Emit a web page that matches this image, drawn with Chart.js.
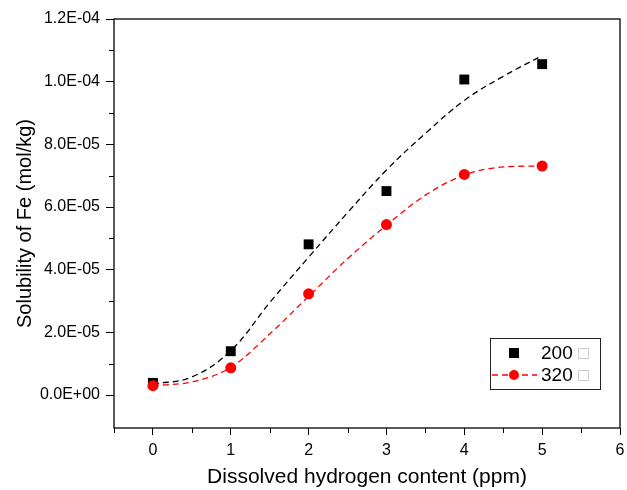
<!DOCTYPE html>
<html>
<head>
<meta charset="utf-8">
<script src="https://cdn.jsdelivr.net/npm/chart.js@4"></script>
<style>
  html, body { margin: 0; padding: 0; background: #fff; }
  #wrap { width: 627px; height: 490px; }
</style>
</head>
<body>
<div id="wrap"><canvas id="chart" width="627" height="490"></canvas></div>
<script>
// measured points
const xPts = [0, 1, 2, 3, 4, 5];
const pts200 = [3.9e-6, 1.40e-5, 4.81e-5, 6.51e-5, 1.007e-4, 1.056e-4];
const pts320 = [3.0e-6, 8.7e-6, 3.23e-5, 5.44e-5, 7.04e-5, 7.31e-5];

// fitted curves, every 0.5 ppm
const xFit = [0, 0.5, 1, 1.5, 2, 2.5, 3, 3.5, 4, 4.5, 5];
const fit200 = [3.5e-6, 5.8e-6, 1.42e-5, 2.95e-5, 4.4e-5, 5.82e-5, 7.18e-5, 8.35e-5, 9.4e-5, 1.017e-4, 1.083e-4];
const fit320 = [3.0e-6, 4.2e-6, 8.8e-6, 1.95e-5, 3.15e-5, 4.35e-5, 5.42e-5, 6.38e-5, 7.02e-5, 7.28e-5, 7.31e-5];

const xTicks = [0, 1, 2, 3, 4, 5, 6];
const xMinor = [-0.5, 0.5, 1.5, 2.5, 3.5, 4.5, 5.5];
const yTicks = [0, 2e-5, 4e-5, 6e-5, 8e-5, 1e-4, 1.2e-4];
const yMinor = [1e-5, 3e-5, 5e-5, 7e-5, 9e-5, 1.1e-4];

const legendLabels = ['200', '320'];
const unitGlyph = '\u25A1';

const FONT = "'Liberation Sans', Arial, sans-serif";

function fmtSci(v) {
    if (v === 0) return '0.0E+00';
    const e = Math.floor(Math.log10(Math.abs(v)) + 1e-9);
    const m = v / Math.pow(10, e);
    return m.toFixed(1) + 'E' + (e < 0 ? '-' : '+') + String(Math.abs(e)).padStart(2, '0');
}

const pair = (xs, ys) => xs.map((x, i) => ({ x: x, y: ys[i] }));

// frame + minor ticks
const framePlugin = {
    id: 'frame',
    afterDraw(chart) {
        const { ctx, chartArea: a, scales } = chart;
        ctx.save();
        ctx.strokeStyle = '#000';
        ctx.lineWidth = 1.3;
        ctx.strokeRect(a.left, a.top, a.right - a.left, a.bottom - a.top);
        ctx.lineWidth = 1;
        ctx.beginPath();
        xMinor.forEach(v => {
            const px = Math.round(scales.x.getPixelForValue(v)) + 0.5;
            ctx.moveTo(px, a.bottom);
            ctx.lineTo(px, a.bottom + 5);
        });
        yMinor.forEach(v => {
            const py = Math.round(scales.y.getPixelForValue(v)) + 0.5;
            ctx.moveTo(a.left, py);
            ctx.lineTo(a.left - 5, py);
        });
        ctx.stroke();
        ctx.restore();
    }
};

// legend box in lower right
const legendPlugin = {
    id: 'boxLegend',
    afterDraw(chart) {
        const { ctx, chartArea: a } = chart;
        const w = 110, h = 51;
        const x0 = a.right - 20 - w, y0 = a.bottom - 39 - h;
        ctx.save();
        ctx.fillStyle = '#fff';
        ctx.fillRect(x0, y0, w, h);
        ctx.strokeStyle = '#222';
        ctx.lineWidth = 1;
        ctx.strokeRect(x0 + 0.5, y0 + 0.5, w, h);

        const rows = [y0 + 15, y0 + 37];
        const mx = x0 + 24;
        // row 1: square marker only
        ctx.fillStyle = '#000';
        ctx.fillRect(mx - 5, rows[0] - 5, 10, 10);
        // row 2: dashed red line with circle
        ctx.strokeStyle = '#ff0000';
        ctx.lineWidth = 1.3;
        ctx.setLineDash([6, 4]);
        ctx.beginPath();
        ctx.moveTo(x0 + 2, rows[1]);
        ctx.lineTo(x0 + 47, rows[1]);
        ctx.stroke();
        ctx.setLineDash([]);
        ctx.fillStyle = '#ff0000';
        ctx.beginPath();
        ctx.arc(mx, rows[1], 5, 0, Math.PI * 2);
        ctx.fill();

        ctx.textBaseline = 'middle';
        ctx.textAlign = 'left';
        legendLabels.forEach((t, i) => {
            ctx.fillStyle = '#000';
            ctx.font = '19px ' + FONT;
            ctx.fillText(t, x0 + 51, rows[i] + 1);
            ctx.fillStyle = '#bdbdbd';
            ctx.font = '18px ' + FONT;
            ctx.fillText(unitGlyph, x0 + 88, rows[i] + 1);
        });
        ctx.restore();
    }
};

const ctx = document.getElementById('chart').getContext('2d');
new Chart(ctx, {
    type: 'scatter',
    data: {
        datasets: [
            {
                label: '320 fit', data: pair(xFit, fit320), showLine: true,
                borderColor: '#ff0000', borderWidth: 1.3, borderDash: [6, 4],
                pointRadius: 0, cubicInterpolationMode: 'monotone', order: 3
            },
            {
                label: '200 fit', data: pair(xFit, fit200), showLine: true,
                borderColor: '#000', borderWidth: 1.3, borderDash: [6, 4],
                pointRadius: 0, tension: 0.4, order: 4
            },
            {
                label: '200', data: pair(xPts, pts200), pointStyle: 'rect',
                pointRadius: 7, backgroundColor: '#000', borderColor: '#000', borderWidth: 0, order: 2
            },
            {
                label: '320', data: pair(xPts, pts320), pointStyle: 'circle',
                pointRadius: 5.5, backgroundColor: '#ff0000', borderColor: '#ff0000', borderWidth: 0, order: 1
            }
        ]
    },
    options: {
        responsive: false,
        animation: false,
        layout: { padding: { top: 19, right: 0, left: 0, bottom: 0 } },
        plugins: { legend: { display: false }, tooltip: { enabled: false } },
        scales: {
            x: {
                type: 'linear', min: -0.5, max: 6,
                afterBuildTicks: s => { s.ticks = xTicks.map(v => ({ value: v })); },
                afterFit: s => { s.height = 62; s.paddingRight = 7; },
                grid: { drawOnChartArea: false, tickLength: 7, color: '#000', tickWidth: 1 },
                border: { display: false },
                ticks: { color: '#000', font: { family: FONT, size: 16 }, padding: 6, maxRotation: 0 },
                title: { display: true, text: 'Dissolved hydrogen content (ppm)', color: '#000',
                         font: { family: FONT, size: 21 }, padding: { top: 0, bottom: 0 } }
            },
            y: {
                type: 'linear', min: -1.05e-5, max: 1.2e-4,
                afterBuildTicks: s => { s.ticks = yTicks.map(v => ({ value: v })); },
                afterFit: s => { s.width = 114; s.paddingTop = 0; },
                grid: { drawOnChartArea: false, tickLength: 8, color: '#000', tickWidth: 1 },
                border: { display: false },
                ticks: { color: '#000', font: { family: FONT, size: 16 }, padding: 6,
                         callback: v => fmtSci(v) },
                title: { display: true, text: 'Solubility of Fe (mol/kg)', color: '#000',
                         font: { family: FONT, size: 20 }, padding: { top: 13, bottom: 0 } }
            }
        }
    },
    plugins: [framePlugin, legendPlugin]
});
</script>
</body>
</html>
